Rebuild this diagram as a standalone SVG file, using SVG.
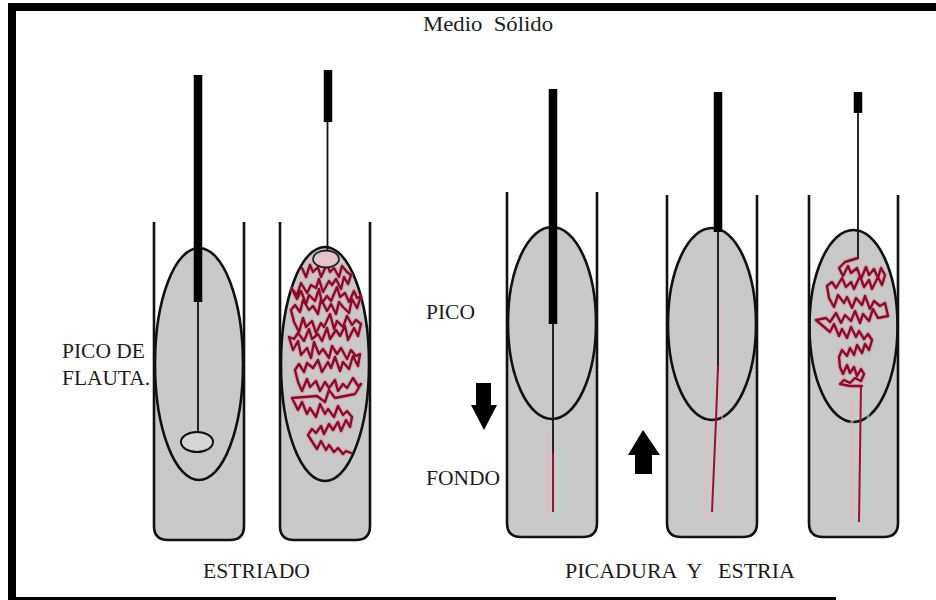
<svg xmlns="http://www.w3.org/2000/svg" width="936" height="600" viewBox="0 0 936 600">
  <style>
    .wall { fill: none; stroke: #111; stroke-width: 2.6; stroke-linejoin: round; }
    .media { fill: #c9c9c9; stroke: none; }
    .zone { fill: #c9c9c9; stroke: #111; stroke-width: 2.6; }
    .rod { stroke: #000; stroke-linecap: butt; }
    .wire { stroke: #111; stroke-width: 1.8; fill: none; }
    .stab { stroke: #9a0f33; stroke-width: 2; fill: none; }
    .halo { stroke: #e0708a; stroke-width: 5; fill: none; opacity: 0.35; stroke-linejoin: round; }
    .streak { stroke: #8a0a2a; stroke-width: 2.4; fill: none; stroke-linejoin: round; stroke-linecap: round; }
    .label { font-family: "Liberation Serif", "Times New Roman", serif; font-size: 20px; fill: #1c1c1c; white-space: pre; }
    .arrow { fill: #000; }
  </style>

  <defs>
    <!-- inoculation scribbles -->
    <path id="scribble-2-path" d="M302,268 l4,9 l4,-12 l3,7 l5,-5 l3,10 l6,-13 l3,8 l4,-4 l5,9 l3,-11 l5,6 l4,3 l-3,9 l-4,-7 l-3,12 l-5,-10 l-4,6 l-3,-4 l-6,11 l-4,-13 l-3,9 l-5,-3 l-4,8 l-6,-10 l-4,12 l-5,-6 l5,10 l4,-8 l5,13 l3,-9 l6,6 l4,-12 l3,14 l5,-7 l4,5 l6,-14 l3,10 l5,-4 l4,9 l5,-11 l3,7 l4,-2 l-4,12 l-5,-9 l-3,14 l-6,-6 l-4,-5 l-3,12 l-5,-10 l-4,7 l-6,-12 l-3,15 l-5,-8 l-4,4 l-6,-10 l-3,12 l-5,-7 l-4,5 l3,12 l5,10 l4,-14 l3,9 l6,-6 l4,12 l5,-10 l3,4 l6,-13 l4,15 l3,-8 l6,6 l4,-11 l5,9 l4,-5 l5,4 l-3,12 l-4,-8 l-6,12 l-3,-14 l-5,10 l-4,-6 l-6,9 l-3,-11 l-5,13 l-4,-7 l-6,5 l-3,-10 l-5,12 l-6,-8 l-4,6 l-5,-2 l4,13 l5,-9 l3,14 l6,-7 l4,10 l3,-16 l5,12 l4,-5 l6,9 l3,-12 l5,8 l4,-6 l6,11 l4,-9 l5,6 l4,-2 l-2,12 l-5,-10 l-4,13 l-6,-7 l-3,9 l-5,-14 l-4,11 l-3,-6 l-6,10 l-4,-12 l-5,8 l-6,-5 l-3,9 l-5,-8 l-4,6 l3,12 l4,9 l5,-12 l3,8 l6,-6 l4,10 l5,-9 l4,6 l6,-8 l3,11 l5,-7 l4,4 l6,-10 l5,8 l3,-2 l-6,10 l-20,4 l-6,-8 l-4,12 l-8,-6 l-25,2 l6,12 l4,-8 l5,12 l3,-6 l6,9 l4,-13 l5,10 l3,-5 l6,8 l4,-11 l5,9 l4,-4 l5,6 l-2,10 l-4,-7 l-5,11 l-3,-9 l-5,8 l-4,-6 l-5,10 l-3,-8 l-5,7 l-4,-4 l-4,6 l5,8 l4,6 l4,-8 l5,9 l3,-5 l5,7 l4,-4 l5,6 l3,-3 l5,2"/>
    <path id="scribble-5-path" d="M858,258 L845,262 l-6,6 l4,8 l5,-10 l3,7 l6,-5 l4,11 l5,-12 l3,8 l5,-6 l4,9 l3,-10 l4,7 l-3,10 l-4,-8 l-6,12 l-3,-9 l-5,7 l-4,-11 l-6,13 l-3,-7 l-5,5 l-4,-9 l-6,10 l-4,-6 l-5,4 l2,12 l5,9 l4,-12 l6,8 l3,-6 l5,11 l4,-10 l6,7 l3,-9 l5,13 l4,-8 l6,5 l5,-3 l3,13 l-10,2 l-5,-9 l-4,12 l-6,-7 l-3,9 l-5,-12 l-4,10 l-6,-6 l-4,8 l-5,-10 l-6,9 l-4,-4 l-10,2 l14,12 l4,-8 l5,12 l3,-7 l5,9 l4,-11 l5,10 l3,-6 l5,8 l4,-5 l4,6 l-3,10 l-4,-6 l-3,9 l-5,-8 l-3,10 l-4,-7 l-3,8 l-5,-6 l-3,7 l1,10 l3,7 l4,-9 l3,8 l4,-6 l3,9 l4,-7 l3,5 l-3,7 l-6,-3 l-5,5 l-6,-3 l-4,4 l10,2 l12,0"/>
  </defs>

  <!-- frame -->
  <rect x="0" y="0" width="936" height="600" fill="#fff"/>
  <rect x="8" y="3" width="928" height="8" fill="#000"/>
  <rect x="8" y="3" width="8" height="597" fill="#000"/>
  <rect x="8" y="597" width="828" height="3" fill="#000"/>

  <text class="label" x="423" y="31" textLength="130" lengthAdjust="spacingAndGlyphs">Medio  Sólido</text>

  <!-- tube 1: slant, loop with drop -->
  <g id="tube-slant-1">
    <path class="media" d="M154,364 V526 Q154,540 168,540 H230 Q244,540 244,526 V364 Z"/>
    <ellipse class="zone" cx="199" cy="364" rx="44" ry="116"/>
    <path class="wall" d="M154,222 V526 Q154,540 168,540 H230 Q244,540 244,526 V222"/>
    <line class="rod" x1="198" y1="75" x2="198" y2="302" stroke-width="8.5"/>
    <line class="wire" x1="198" y1="300" x2="198" y2="433"/>
    <ellipse cx="197" cy="442" rx="16" ry="10" fill="#d6d6d6" stroke="#111" stroke-width="2"/>
  </g>

  <!-- tube 2: slant, streaked -->
  <g id="tube-slant-2">
    <path class="media" d="M280,364 V526 Q280,540 294,540 H356 Q370,540 370,526 V364 Z"/>
    <ellipse class="zone" cx="325" cy="364" rx="44" ry="117" fill="#cdcfcb"/>
    <path class="wall" d="M280,222 V526 Q280,540 294,540 H356 Q370,540 370,526 V222"/>
    <line class="rod" x1="328" y1="70" x2="328" y2="122" stroke-width="8.5"/>
    <line class="wire" x1="327.5" y1="120" x2="327.5" y2="252"/>
    <g id="scribble-2">
      <use href="#scribble-2-path" class="halo"/>
      <use href="#scribble-2-path" class="streak"/>
    </g>
    <ellipse cx="326" cy="259" rx="13" ry="8.5" fill="#e6c3c8" stroke="#222" stroke-width="1.8"/>
  </g>

  <!-- tube 3: stab + streak, needle going down -->
  <g id="tube-stab-1">
    <path class="media" d="M507,323 V523 Q507,537 521,537 H583 Q597,537 597,523 V323 Z"/>
    <ellipse class="zone" cx="552" cy="323" rx="44" ry="96"/>
    <line x1="548" y1="430" x2="548" y2="518" stroke="#e9b6c4" stroke-width="3" opacity="0.6"/>
    <line x1="560" y1="440" x2="560" y2="520" stroke="#b9d6cf" stroke-width="3" opacity="0.6"/>
    <path class="wall" d="M507,192 V523 Q507,537 521,537 H583 Q597,537 597,523 V192"/>
    <line class="rod" x1="553" y1="89" x2="553" y2="324" stroke-width="8.5"/>
    <line class="wire" x1="553" y1="322" x2="553" y2="455"/>
    <line class="stab" x1="553" y1="453" x2="553" y2="512" stroke="#8a0a2a"/>
  </g>

  <!-- tube 4: stab + streak, needle coming up -->
  <g id="tube-stab-2">
    <path class="media" d="M667,324 V523 Q667,537 681,537 H743 Q757,537 757,523 V324 Z"/>
    <ellipse class="zone" cx="712" cy="324" rx="44" ry="96"/>
    <line x1="706" y1="420" x2="706" y2="520" stroke="#e9b6c4" stroke-width="3" opacity="0.6"/>
    <line x1="722" y1="300" x2="722" y2="520" stroke="#e9b6c4" stroke-width="2" opacity="0.5"/>
    <path class="wall" d="M667,195 V523 Q667,537 681,537 H743 Q757,537 757,523 V195"/>
    <line class="rod" x1="718" y1="92" x2="718" y2="232" stroke-width="8.5"/>
    <line class="wire" x1="718" y1="230" x2="718" y2="372"/>
    <path class="stab" d="M718,366 L716,420 L712,512" stroke="#b0123a"/>
  </g>

  <!-- tube 5: stab + streak, result -->
  <g id="tube-stab-3">
    <path class="media" d="M809,326 V523 Q809,537 823,537 H884 Q898,537 898,523 V326 Z"/>
    <ellipse class="zone" cx="853.5" cy="326" rx="44" ry="96" fill="#cdcfcb"/>
    <line x1="852" y1="400" x2="852" y2="520" stroke="#e9b6c4" stroke-width="3" opacity="0.6"/>
    <line x1="868" y1="400" x2="868" y2="520" stroke="#b9d6cf" stroke-width="3" opacity="0.6"/>
    <path class="wall" d="M809,195 V523 Q809,537 823,537 H884 Q898,537 898,523 V195"/>
    <line class="rod" x1="858" y1="92" x2="858" y2="113" stroke-width="8.5"/>
    <line class="wire" x1="858" y1="111" x2="858" y2="258"/>
    <g id="scribble-5">
      <use href="#scribble-5-path" class="halo"/>
      <use href="#scribble-5-path" class="streak"/>
    </g>
    <path class="stab" d="M861,385 L859,522" stroke="#b0123a"/>
  </g>

  <!-- direction arrows -->
  <g id="arrows">
    <polygon class="arrow" points="476,383 491,383 491,405 497,405 484,430 471,405 476,405"/>
    <polygon class="arrow" points="643,430 660,455 652,455 652,474 635,474 635,455 628,455"/>
  </g>

  <!-- labels -->
  <g id="labels">
    <text class="label" x="62" y="358" textLength="83" lengthAdjust="spacingAndGlyphs">PICO DE</text>
    <text class="label" x="62" y="385" textLength="88" lengthAdjust="spacingAndGlyphs">FLAUTA.</text>
    <text class="label" x="426" y="319" textLength="49" lengthAdjust="spacingAndGlyphs">PICO</text>
    <text class="label" x="426" y="485" textLength="74" lengthAdjust="spacingAndGlyphs">FONDO</text>
    <text class="label" x="203" y="578" textLength="107" lengthAdjust="spacingAndGlyphs">ESTRIADO</text>
    <text class="label" x="565" y="578" textLength="230" lengthAdjust="spacingAndGlyphs">PICADURA  Y   ESTRIA</text>
  </g>
</svg>
